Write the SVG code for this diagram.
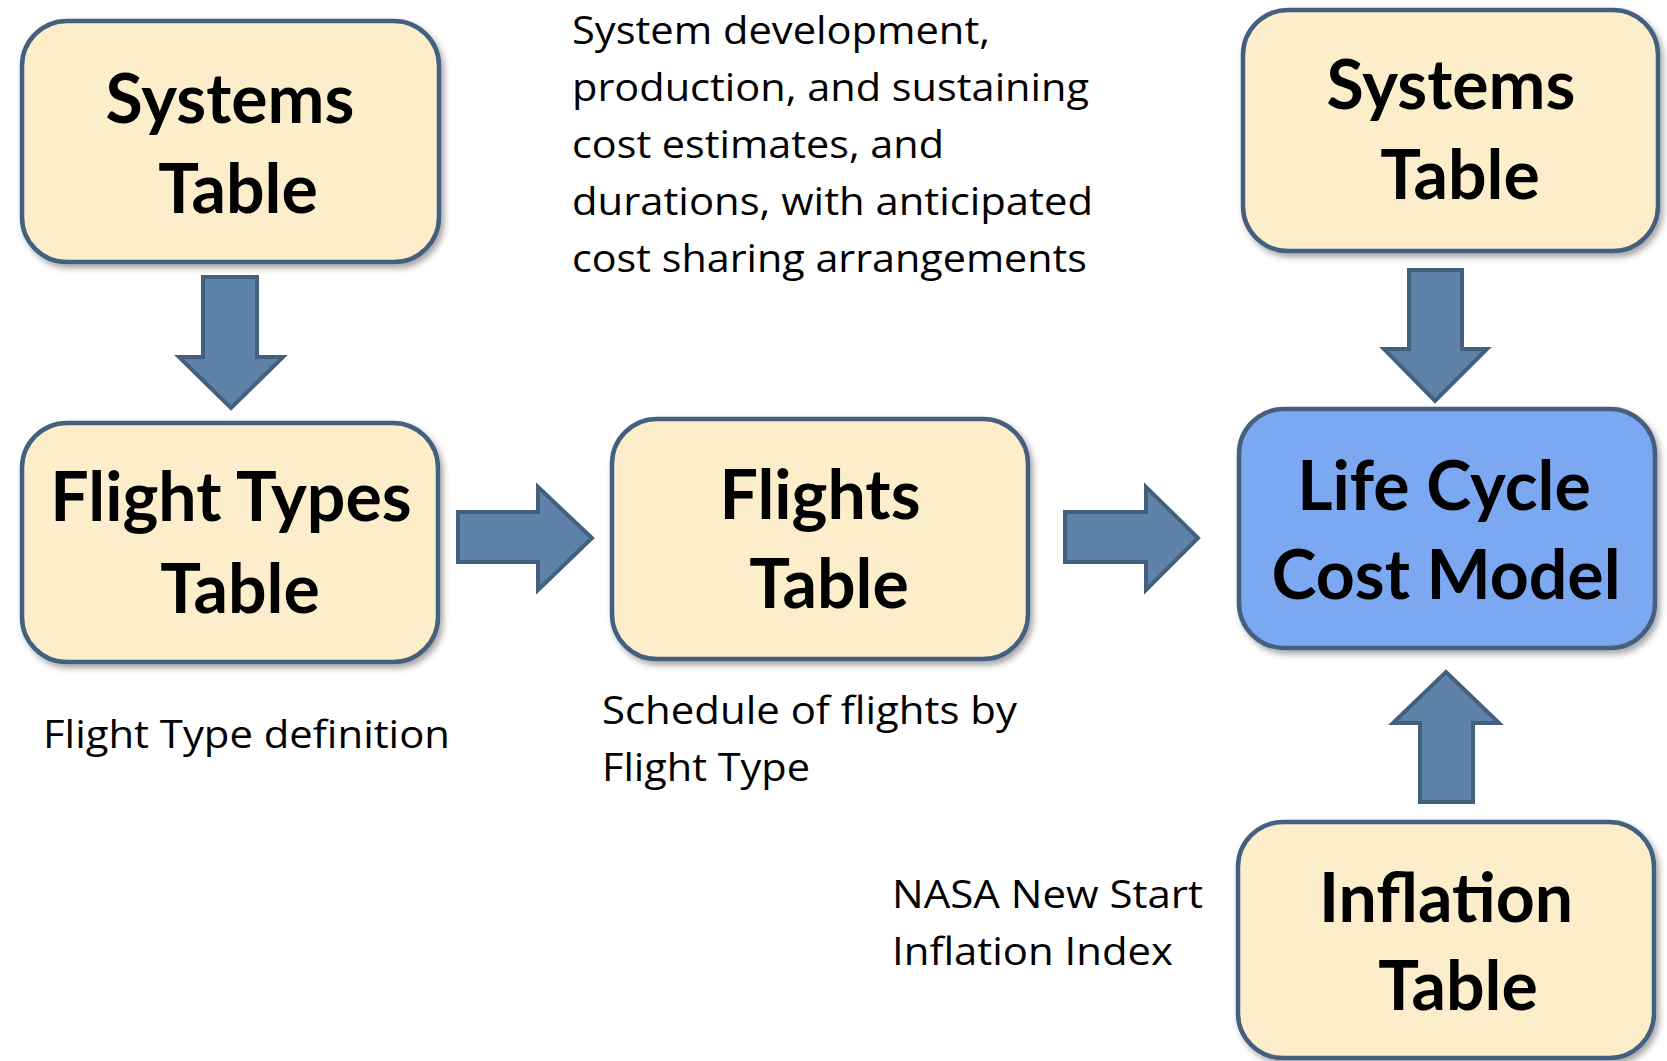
<svg xmlns="http://www.w3.org/2000/svg" width="1667" height="1061" viewBox="0 0 1667 1061">
  <defs>
    <filter id="shadow" x="-10%" y="-10%" width="125%" height="130%">
      <feDropShadow dx="3" dy="4" stdDeviation="3" flood-color="#000" flood-opacity="0.35"/>
    </filter>
  </defs>
  <style>
    .box { fill: #FDEECB; stroke: #44607F; stroke-width: 4.5; filter: url(#shadow); }
    .box.main { fill: #7BA8F2; }
    .title { font-family: Lato, "Liberation Sans", sans-serif; font-weight: bold; font-size: 68px; fill: #000; text-anchor: middle; }
    .label { font-family: "Open Sans", "Liberation Sans", sans-serif; font-size: 38px; fill: #000; }
    .arrow { fill: #5F82A9; stroke: #43607F; stroke-width: 4; stroke-linejoin: miter; }
  </style>
  <rect width="1667" height="1061" fill="#fff"/>

  <g id="connectors">
    <path class="arrow" d="M203,277 L257,277 L257,357 L283,357 L231,408 L179,357 L203,357 Z"/>
    <path class="arrow" d="M458,512 L538,512 L538,487 L592,538 L538,590 L538,562 L458,562 Z"/>
    <path class="arrow" d="M1065,512 L1146,512 L1146,487 L1198,538 L1146,590 L1146,562 L1065,562 Z"/>
    <path class="arrow" d="M1409,270 L1462,270 L1462,349 L1487,349 L1435,401 L1384,349 L1409,349 Z"/>
    <path class="arrow" d="M1420,802 L1473,802 L1473,723 L1499,723 L1446,672 L1393,723 L1420,723 Z"/>
  </g>

  <g id="systems-table-left">
    <rect class="box" x="22" y="21" width="417" height="241" rx="45"/>
    <text class="title" x="230" y="123">Systems</text>
    <text class="title" x="238" y="213">Table</text>
  </g>

  <g id="flight-types-table">
    <rect class="box" x="22" y="423" width="416" height="239" rx="45"/>
    <text class="title" x="231" y="521">Flight Types</text>
    <text class="title" x="240" y="613">Table</text>
  </g>

  <g id="flights-table">
    <rect class="box" x="612" y="419" width="416" height="240" rx="45"/>
    <text class="title" x="820" y="519">Flights</text>
    <text class="title" x="829" y="608">Table</text>
  </g>

  <g id="systems-table-right">
    <rect class="box" x="1243" y="10" width="415" height="241" rx="45"/>
    <text class="title" x="1451" y="109">Systems</text>
    <text class="title" x="1460" y="199">Table</text>
  </g>

  <g id="life-cycle-cost-model">
    <rect class="box main" x="1239" y="409" width="416" height="239" rx="45"/>
    <text class="title" x="1444" y="510">Life Cycle</text>
    <text class="title" x="1446" y="599">Cost Model</text>
  </g>

  <g id="inflation-table">
    <rect class="box" x="1238" y="822" width="416" height="236" rx="45"/>
    <text class="title" x="1446" y="922">Inflation</text>
    <text class="title" x="1458" y="1010">Table</text>
  </g>

  <g id="labels">
    <text class="label" x="572" y="44" textLength="418" lengthAdjust="spacingAndGlyphs">System development,</text>
    <text class="label" x="572" y="101" textLength="517" lengthAdjust="spacingAndGlyphs">production, and sustaining</text>
    <text class="label" x="572" y="158" textLength="372" lengthAdjust="spacingAndGlyphs">cost estimates, and</text>
    <text class="label" x="572" y="215" textLength="521" lengthAdjust="spacingAndGlyphs">durations, with anticipated</text>
    <text class="label" x="572" y="272" textLength="515" lengthAdjust="spacingAndGlyphs">cost sharing arrangements</text>
    <text class="label" x="43" y="748" textLength="407" lengthAdjust="spacingAndGlyphs">Flight Type definition</text>
    <text class="label" x="602" y="724" textLength="415" lengthAdjust="spacingAndGlyphs">Schedule of flights by</text>
    <text class="label" x="602" y="781" textLength="208" lengthAdjust="spacingAndGlyphs">Flight Type</text>
    <text class="label" x="892" y="908" textLength="311" lengthAdjust="spacingAndGlyphs">NASA New Start</text>
    <text class="label" x="892" y="965" textLength="281" lengthAdjust="spacingAndGlyphs">Inflation Index</text>
  </g>
</svg>
